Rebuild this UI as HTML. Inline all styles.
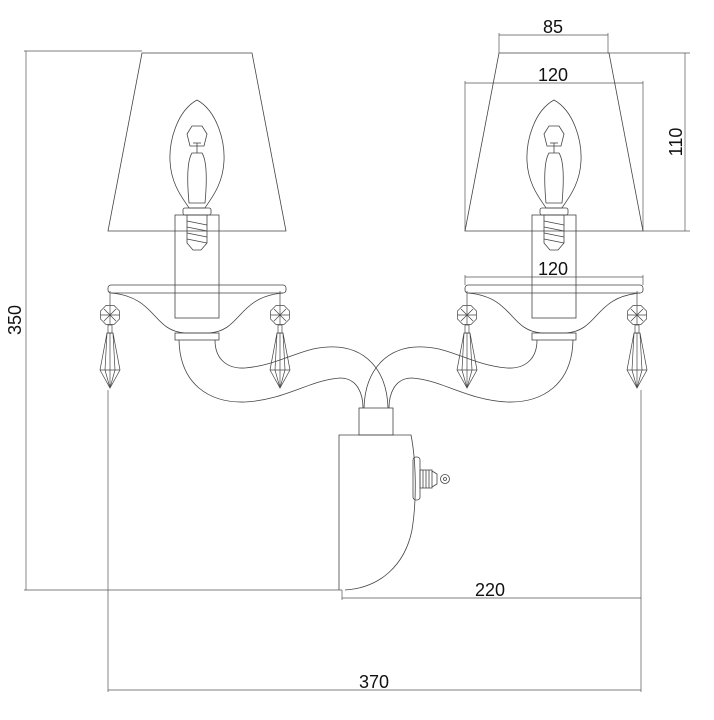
<!DOCTYPE html>
<html><head><style>html,body{margin:0;padding:0;background:#fff;}svg{display:block}</style></head>
<body>
<svg width="714" height="720" viewBox="0 0 714 720" xmlns="http://www.w3.org/2000/svg">
<defs>
<g id="crystal" fill="none" stroke="#444" stroke-width="0.7">
  <line x1="0" y1="-24" x2="0" y2="-10"/>
  <polygon points="-4,-9.5 4,-9.5 9.5,-4 9.5,4 4,9.5 -4,9.5 -9.5,4 -9.5,-4"/>
  <line x1="-9.5" y1="0" x2="9.5" y2="0"/><line x1="0" y1="-9.5" x2="0" y2="9.5"/>
  <line x1="-6" y1="-6" x2="6" y2="6"/><line x1="6" y1="-6" x2="-6" y2="6"/>
  <rect x="-2" y="10" width="4" height="8"/>
  <polygon points="-3,18 3,18 10,55 0,73 -10,55"/>
  <line x1="-3" y1="18" x2="-5" y2="55"/><line x1="3" y1="18" x2="5" y2="55"/>
  <line x1="0" y1="18" x2="0" y2="73"/><line x1="-10" y1="55" x2="10" y2="55"/>
  <line x1="-5" y1="55" x2="0" y2="73"/><line x1="5" y1="55" x2="0" y2="73"/>
</g>
<g id="lamp" fill="none" stroke="#444" stroke-width="0.8">
  <polygon points="-55,-178 55,-178 89,0 -89,0"/>
  <path d="M0,-131 C-20,-120 -28,-90 -27,-70 C-26,-45 -12,-30 -8,-23 L8,-23 C12,-30 26,-45 27,-70 C28,-90 20,-120 0,-131 Z"/>
  <path d="M-10,-97 L-5,-105 L5,-105 L10,-97 L7,-85 L-7,-85 Z"/>
  <line x1="0" y1="-88" x2="0" y2="-78"/><line x1="-4" y1="-88" x2="4" y2="-88"/>
  <path d="M-5,-78 L5,-78 C10,-70 10,-50 8,-28 L-8,-28 C-10,-50 -10,-70 -5,-78 Z"/>
  <rect x="-14" y="-23" width="28" height="7" rx="2"/>
  <rect x="-22" y="-16" width="44" height="103"/>
  <path d="M-10,-16 L10,-16 L10,12 L4,19 L-4,19 L-10,12 Z"/>
  <line x1="-10" y1="-10" x2="10" y2="-6"/><line x1="-10" y1="-4" x2="10" y2="0"/>
  <line x1="-10" y1="2" x2="10" y2="6"/><line x1="-10" y1="8" x2="10" y2="12"/>
  <rect x="-89" y="54" width="178" height="8" rx="3"/>
  <path d="M-86,62 C-40,66 -45,100 -12,102 L12,102 C45,100 40,66 86,62"/>
  <rect x="-22" y="102" width="44" height="7"/>
</g>
</defs>

<g stroke="#555" stroke-width="0.7" fill="none">
  <line x1="26" y1="51" x2="26" y2="590"/>
  <line x1="24" y1="51" x2="142" y2="51"/>
  <line x1="24" y1="590" x2="342" y2="590"/>
  <line x1="108" y1="390" x2="108" y2="692"/>
  <line x1="108" y1="690" x2="641" y2="690"/>
  <line x1="641" y1="390" x2="641" y2="692"/>
  <line x1="342" y1="590" x2="342" y2="600"/>
  <line x1="342" y1="598" x2="641" y2="598"/>
  <line x1="499" y1="33" x2="499" y2="53"/><line x1="608" y1="33" x2="608" y2="53"/>
  <line x1="499" y1="35" x2="608" y2="35"/>
  <line x1="465" y1="81" x2="465" y2="231"/><line x1="643" y1="81" x2="643" y2="231"/>
  <line x1="465" y1="83" x2="643" y2="83"/>
  <line x1="608" y1="53" x2="690" y2="53"/><line x1="643" y1="231" x2="690" y2="231"/>
  <line x1="685" y1="53" x2="685" y2="231"/>
  <line x1="465" y1="277" x2="643" y2="277"/>
  <line x1="465" y1="275" x2="465" y2="285"/><line x1="643" y1="275" x2="643" y2="285"/>
</g>

<use href="#lamp" x="197" y="231"/>
<use href="#lamp" x="554" y="231"/>
<use href="#crystal" x="110" y="315"/>
<use href="#crystal" x="280" y="315"/>
<use href="#crystal" x="467" y="315"/>
<use href="#crystal" x="637" y="315"/>

<g fill="none" stroke="#444" stroke-width="0.8">
  <path d="M179,340 C180,385 210,403 245,402 C285,400 310,380 340,378 C358,378 363,395 363,408"/>
  <path d="M215,340 C215,360 228,369 245,368 C280,365 300,348 328,347 C365,345 387,370 388,408"/>
  <path d="M573,340 C572,385 542,403 507,402 C467,400 442,380 412,378 C394,378 389,395 389,408"/>
  <path d="M537,340 C537,360 524,369 507,368 C472,365 452,348 424,347 C387,345 365,370 364,408"/>
  <rect x="359" y="408" width="34" height="27"/>
  <path d="M339,590 L339,435 L411,435 C416,460 417,500 412,530 C405,565 380,588 345,590"/>
  <rect x="413" y="457" width="7" height="43" rx="3"/>
  <rect x="420" y="470" width="12" height="18"/>
  <line x1="423" y1="470" x2="423" y2="488"/><line x1="426" y1="470" x2="426" y2="488"/><line x1="429" y1="470" x2="429" y2="488"/>
  <path d="M432,471 L437,474 L437,484 L432,487"/>
  <circle cx="445" cy="479" r="4.5"/><circle cx="445" cy="479" r="1.5"/>
</g>

<g font-family="Liberation Sans, sans-serif" font-size="18" fill="#111" text-anchor="middle">
  <text x="553" y="33">85</text>
  <text x="553" y="81">120</text>
  <text x="553" y="275">120</text>
  <text x="490" y="596">220</text>
  <text x="374" y="688">370</text>
  <text transform="translate(21,320) rotate(-90)">350</text>
  <text transform="translate(682,142) rotate(-90)">110</text>
</g>
</svg>
</body></html>
